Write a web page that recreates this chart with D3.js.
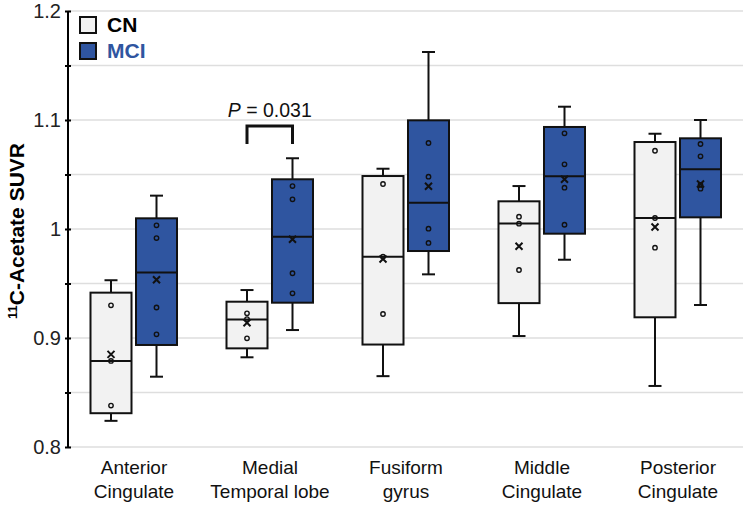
<!DOCTYPE html>
<html><head><meta charset="utf-8">
<script src="https://cdn.jsdelivr.net/npm/d3@7"></script>
<style>
html,body{margin:0;padding:0;background:#fff;}
svg{display:block;font-family:"Liberation Sans",Arial,sans-serif;}
</style></head>
<body>
<svg id="chart" width="743" height="506"></svg>
<script>
const categories = [["Anterior","Cingulate"],["Medial","Temporal lobe"],["Fusiform","gyrus"],["Middle","Cingulate"],["Posterior","Cingulate"]];
const seriesNames = ["CN","MCI"];

const cnMin    = [0.824, 0.8823, 0.865, 0.9018, 0.856];
const cnQ1     = [0.831, 0.8905, 0.894, 0.932, 0.919];
const cnMedian = [0.879, 0.917, 0.9746, 1.005, 1.010];
const cnQ3     = [0.9416, 0.9333, 1.0486, 1.0254, 1.0798];
const cnMax    = [0.953, 0.944, 1.0553, 1.0394, 1.0874];
const cnMean   = [0.885, 0.914, 0.9725, 0.9841, 1.0018];
const cnPoints = [[0.930,0.879,0.838],[0.9226,0.9174,0.8997],[1.0413,0.9746,0.922],[1.0113,1.0049,0.9624],[1.0718,1.0101,0.9829]];

const mciMin    = [0.8645, 0.9073, 0.9584, 0.9718, 0.9303];
const mciQ1     = [0.8936, 0.9324, 0.9798, 0.9957, 1.0107];
const mciMedian = [0.960, 0.993, 1.0241, 1.0483, 1.0548];
const mciQ3     = [1.0098, 1.0456, 1.0997, 1.0936, 1.0832];
const mciMax    = [1.0306, 1.0649, 1.1624, 1.1122, 1.100];
const mciMean   = [0.9535, 0.9906, 1.0392, 1.0456, 1.0413];
const mciPoints = [[1.0034,0.9917,0.928,0.9034],[1.0394,1.0272,0.9594,0.941],[1.0789,1.048,1.0003,0.9872],[1.0878,1.0593,1.0379,1.0039],[1.078,1.0667,1.0404,1.037]];

const yTickValues = [0.8, 0.9, 1.0, 1.1, 1.2];
const yTickLabels = ["0.8", "0.9", "1", "1.1", "1.2"];
const yMinorTicks = [0.8,0.85,0.9,0.95,1.0,1.05,1.1,1.15,1.2];

const sigCategory = 1;
const sigLabelP = "P";
const sigLabelRest = " = 0.031";
const sigTop = 1.0945;
const sigLegBottom = 1.078;
const sigTextLevel = 1.1025;

const colors = {CN:"#f2f2f2", MCI:"#2f55a0"};
const textColors = {CN:"#000000", MCI:"#2f55a0"};

const series = [
  {name:"CN", min:cnMin, q1:cnQ1, med:cnMedian, q3:cnQ3, max:cnMax, mean:cnMean, pts:cnPoints, off:-23},
  {name:"MCI", min:mciMin, q1:mciQ1, med:mciMedian, q3:mciQ3, max:mciMax, mean:mciMean, pts:mciPoints, off:22.5}
];

const svg = d3.select("#chart");
const axisX = 68;
const y = d3.scaleLinear().domain([0.8,1.2]).range([447,11]);
const x = d3.scaleBand().domain(d3.range(categories.length)).range([66,746]).paddingInner(0).paddingOuter(0);
const boxW = 41, capW = 13;

// gridlines
svg.append("g").selectAll("line").data(yMinorTicks).join("line")
  .attr("x1", axisX).attr("x2", 743)
  .attr("y1", d=>y(d)).attr("y2", d=>y(d))
  .attr("stroke", "#dedede").attr("stroke-width", 1.5);

// y axis
const yAxis = d3.axisLeft(y).tickValues(yMinorTicks).tickSize(3)
  .tickFormat(d => { const i = yTickValues.findIndex(v=>Math.abs(v-d)<1e-9); return i>=0 ? yTickLabels[i] : ""; });
const ga = svg.append("g").attr("transform", `translate(${axisX},0)`).call(yAxis);
ga.select(".domain").remove();
ga.append("line").attr("x1",0).attr("x2",0).attr("y1",y(1.2)).attr("y2",y(0.8)).attr("stroke","#000").attr("stroke-width",2);
ga.selectAll(".tick line").attr("x1",-3).attr("x2",3).attr("stroke","#000").attr("stroke-width",2);
ga.selectAll(".tick text").attr("x",-7).attr("font-size","20px").attr("fill","#222").attr("font-family","Liberation Sans, Arial, sans-serif");

// y label
const yl = svg.append("text")
  .attr("transform","translate(24,231) rotate(-90)")
  .attr("text-anchor","middle").attr("font-weight","bold").attr("font-size","21px").attr("fill","#000");
yl.append("tspan").attr("font-size","13px").attr("dy","-7").text("11");
yl.append("tspan").attr("dy","7").text("C-Acetate SUVR");

// x labels
categories.forEach((lines,i) => {
  const cx = x(i) + x.bandwidth()/2;
  const t = svg.append("text").attr("text-anchor","middle").attr("font-size","19px").attr("fill","#111");
  lines.forEach((ln,j)=> t.append("tspan").attr("x",cx).attr("y",474 + j*24).text(ln));
});

// boxes
series.forEach(s => {
  const g = svg.append("g");
  categories.forEach((c,i) => {
    const cx = x(i) + x.bandwidth()/2 + s.off;
    const ln = (x1,x2,y1,y2) => g.append("line").attr("x1",x1).attr("x2",x2).attr("y1",y1).attr("y2",y2).attr("stroke","#111").attr("stroke-width",2);
    ln(cx, cx, y(s.max[i]), y(s.q3[i]));
    ln(cx, cx, y(s.q1[i]), y(s.min[i]));
    ln(cx-capW/2, cx+capW/2, y(s.max[i]), y(s.max[i]));
    ln(cx-capW/2, cx+capW/2, y(s.min[i]), y(s.min[i]));
    g.append("rect").attr("x",cx-boxW/2).attr("width",boxW)
      .attr("y",y(s.q3[i])).attr("height",y(s.q1[i])-y(s.q3[i]))
      .attr("fill",colors[s.name]).attr("stroke","#111").attr("stroke-width",2);
    ln(cx-boxW/2, cx+boxW/2, y(s.med[i]), y(s.med[i]));
    g.selectAll(null).data(s.pts[i]).join("circle")
      .attr("cx",cx).attr("cy",d=>y(d)).attr("r",2.2)
      .attr("fill","none").attr("stroke","#111").attr("stroke-width",1.4);
    const my = y(s.mean[i]), m = 3.5;
    g.append("path").attr("d",`M${cx-m},${my-m}L${cx+m},${my+m}M${cx-m},${my+m}L${cx+m},${my-m}`)
      .attr("stroke","#111").attr("stroke-width",2).attr("fill","none");
  });
});

// significance bracket
{
  const c = x(sigCategory) + x.bandwidth()/2;
  const x1 = c + series[0].off, x2 = c + series[1].off;
  svg.append("path").attr("d",`M${x1},${y(sigLegBottom)}V${y(sigTop)}H${x2}V${y(sigLegBottom)}`)
    .attr("fill","none").attr("stroke","#111").attr("stroke-width",3);
  const t = svg.append("text").attr("x",(x1+x2)/2).attr("y",y(sigTextLevel)).attr("text-anchor","middle")
    .attr("font-size","19.5px").attr("fill","#111");
  t.append("tspan").attr("font-style","italic").text(sigLabelP);
  t.append("tspan").text(sigLabelRest);
}

// legend
seriesNames.forEach((n,i) => {
  svg.append("rect").attr("x",80).attr("y",17+i*26).attr("width",16).attr("height",16)
    .attr("fill",colors[n]).attr("stroke","#111").attr("stroke-width",2);
  svg.append("text").attr("x",107).attr("y",32+i*26).attr("font-weight","bold").attr("font-size","21px")
    .attr("fill",textColors[n]).text(n);
});
</script>
</body></html>
